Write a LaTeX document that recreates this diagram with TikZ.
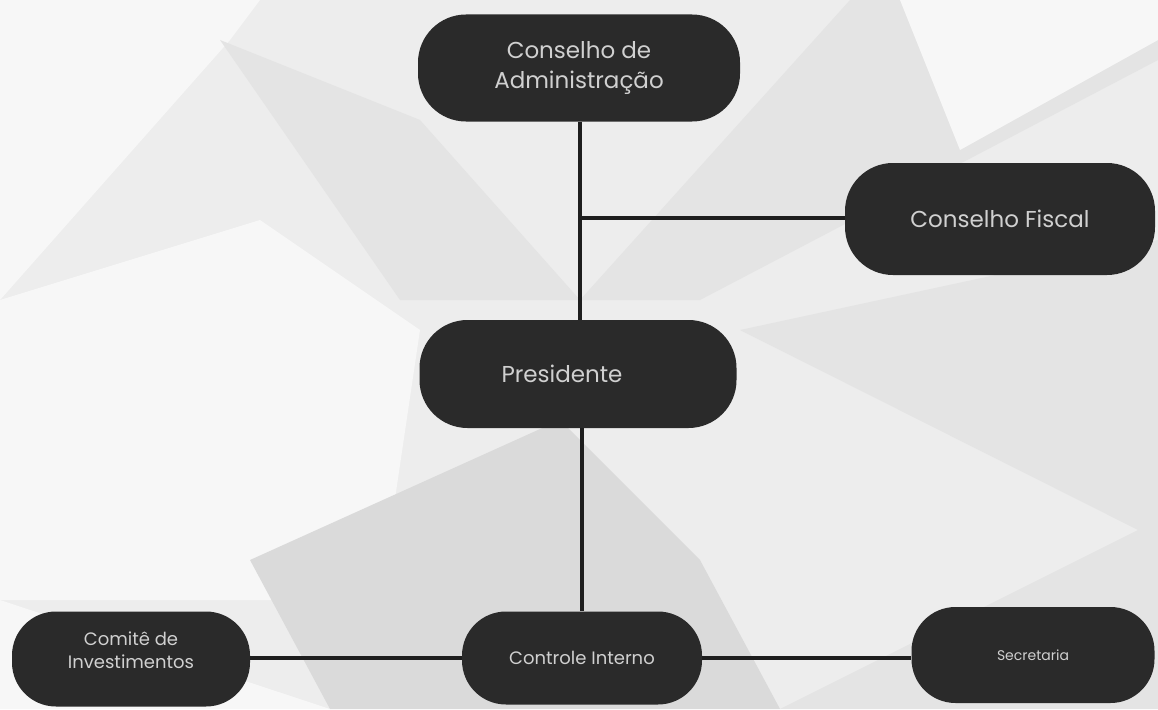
\documentclass[tikz,border=0pt]{standalone}
\usepackage{fontspec}
\setmainfont{Poppins}
\definecolor{boxfill}{HTML}{2A2A2A}
\definecolor{boxtext}{HTML}{D0D0D0}
\definecolor{bgbase}{HTML}{EDEDED}
\definecolor{bglight}{HTML}{F7F7F7}
\definecolor{bgmid}{HTML}{E4E4E4}
\definecolor{bgdark}{HTML}{DADADA}
\definecolor{linec}{HTML}{1E1E1E}
\begin{document}
\begin{tikzpicture}[x=1pt,y=-1pt,
  orgbox/.style={draw=none, fill=boxfill, text=boxtext, rounded corners=48pt,
    align=center, inner sep=0pt, font=\fontsize{23}{30}\selectfont},
  smallbox/.style={orgbox, rounded corners=44pt},
  conn/.style={draw=linec, line width=3.3pt}]
\useasboundingbox (0,0) rectangle (1158,709);
% background
\fill[bgbase] (0,0) rectangle (1158,709);
\fill[bglight] (0,0) -- (260,0) -- (230,40) -- (0,300) -- cycle;
\fill[bglight] (0,300) -- (260,220) -- (420,330) -- (380,600) -- (0,600) -- cycle;
\fill[bgmid] (220,40) -- (420,120) -- (580,300) -- (400,300) -- cycle;
\fill[bgmid] (850,0) -- (1158,0) -- (1158,60) -- (700,300) -- (580,300) -- cycle;
\fill[bglight] (900,0) -- (1158,0) -- (1158,40) -- (960,150) -- cycle;
\fill[bgmid] (740,330) -- (1158,240) -- (1158,540) -- cycle;
\fill[bgdark] (250,560) -- (560,420) -- (700,560) -- (780,709) -- (330,709) -- cycle;
\fill[bglight] (0,600) -- (330,709) -- (0,709) -- cycle;
\fill[bgmid] (780,709) -- (1158,520) -- (1158,709) -- cycle;
% nodes
\node[orgbox, minimum width=322pt, minimum height=107pt] (ca) at (579,68) {Conselho de\\Administração};
\node[orgbox, minimum width=310pt, minimum height=112pt] (cf) at (1000,219) {Conselho Fiscal};
\node[orgbox, minimum width=317pt, minimum height=108pt] (pr) at (578,374) {Presidente\hspace*{32pt}};
\node[smallbox, minimum width=240pt, minimum height=93pt,
  font=\fontsize{18}{23}\selectfont] (ci) at (582,658) {Controle Interno};
\node[smallbox, minimum width=238pt, minimum height=95pt,
  font=\fontsize{18}{23}\selectfont] (cm) at (131,659) {Comitê de\\Investimentos\\[-6pt]};
\node[smallbox, minimum width=243pt, minimum height=96pt,
  font=\fontsize{14}{18}\selectfont] (sec) at (1033,655) {Secretaria};
\coordinate (j1) at (580,218);
% connectors
\draw[conn] (ca.south -| j1) -- (pr.north -| j1);
\draw[conn] (j1) -- (j1 -| cf.west);
\draw[conn] (pr.south -| ci.north) -- (ci.north);
\draw[conn] (cm.east |- ci.west) -- (ci.west);
\draw[conn] (ci.east) -- (ci.east -| sec.west);
\end{tikzpicture}
\end{document}
